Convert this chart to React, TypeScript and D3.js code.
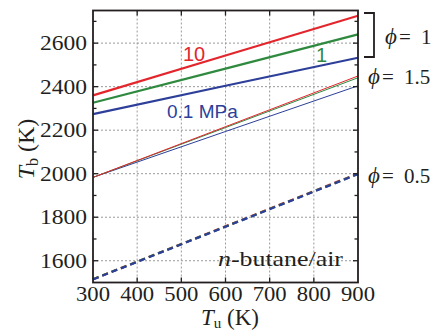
import React from 'react';
import * as d3 from 'd3';

const tu = [300, 600, 900];
const phi1_10 = [2360, 2543, 2726];
const phi1_1 = [2326, 2483, 2640];
const phi1_01 = [2274, 2404, 2533];
const phi15_10 = [1983, 2216, 2449];
const phi15_1 = [1983, 2212, 2441];
const phi15_01 = [1983, 2194, 2404];
const phi05_10 = [1515, 1758, 2001];
const phi05_1 = [1515, 1757, 1999];
const phi05_01 = [1514, 1756, 1998];

const xTicks = [300, 400, 500, 600, 700, 800, 900];
const yTicks = [1600, 1800, 2000, 2200, 2400, 2600];
const yMinor = [1700, 1900, 2100, 2300, 2500, 2700];

const RED = '#e2262c';
const GREEN = '#2f8a3f';
const BLUE = '#2d3f98';
const INK = '#231f20';
const SERIF = '"Liberation Serif", "Times New Roman", serif';
const SANS = '"Liberation Sans", Arial, sans-serif';

export default function App() {
  const x = d3.scaleLinear().domain([300, 900]).range([93, 358]);
  const y = d3.scaleLinear().domain([1500, 2750]).range([282.5, 10.5]);
  const line = (vals: number[]) =>
    d3.line<number>().x((_, i) => x(tu[i])).y((v) => y(v))(vals) || '';

  const thick = [
    { v: phi1_01, c: BLUE },
    { v: phi1_1, c: GREEN },
    { v: phi1_10, c: RED },
  ];
  const thin = [
    { v: phi15_01, c: BLUE },
    { v: phi15_1, c: GREEN },
    { v: phi15_10, c: RED },
  ];
  const dashed = [
    { v: phi05_10, c: RED },
    { v: phi05_1, c: GREEN },
    { v: phi05_01, c: BLUE },
  ];
  const [x0, x1] = x.range();
  const [yb, yt] = y.range();

  return (
    <svg width={433} height={332} style={{ position: 'absolute', left: 0, top: 0 }}>
      <rect width={433} height={332} fill="#fff" />
      {/* grid */}
      {xTicks.slice(1, -1).map((t) => (
        <line key={'gx' + t} x1={x(t)} x2={x(t)} y1={yt} y2={yb} stroke="#9a9a9a" strokeWidth={1} strokeDasharray="2,2" />
      ))}
      {yTicks.map((t) => (
        <line key={'gy' + t} x1={x0} x2={x1} y1={y(t)} y2={y(t)} stroke="#9a9a9a" strokeWidth={1} strokeDasharray="2,2" />
      ))}
      {/* data */}
      {dashed.map((s, i) => (
        <path key={'d' + i} d={line(s.v)} fill="none" stroke={s.c} strokeWidth={2.2} strokeDasharray="6,4" />
      ))}
      {thin.map((s, i) => (
        <path key={'t' + i} d={line(s.v)} fill="none" stroke={s.c} strokeWidth={1} />
      ))}
      {thick.map((s, i) => (
        <path key={'k' + i} d={line(s.v)} fill="none" stroke={s.c} strokeWidth={2.2} />
      ))}
      {/* ticks */}
      {xTicks.slice(1, -1).map((t) => (
        <g key={'tx' + t}>
          <line x1={x(t)} x2={x(t)} y1={yb} y2={yb - 5} stroke={INK} strokeWidth={1.3} />
          <line x1={x(t)} x2={x(t)} y1={yt} y2={yt + 5} stroke={INK} strokeWidth={1.3} />
        </g>
      ))}
      {yTicks.map((t) => (
        <g key={'ty' + t}>
          <line x1={x0} x2={x0 + 5} y1={y(t)} y2={y(t)} stroke={INK} strokeWidth={1.3} />
          <line x1={x1} x2={x1 - 5} y1={y(t)} y2={y(t)} stroke={INK} strokeWidth={1.3} />
        </g>
      ))}
      {yMinor.map((t) => (
        <g key={'tm' + t}>
          <line x1={x0} x2={x0 + 3.5} y1={y(t)} y2={y(t)} stroke={INK} strokeWidth={1.3} />
          <line x1={x1} x2={x1 - 3.5} y1={y(t)} y2={y(t)} stroke={INK} strokeWidth={1.3} />
        </g>
      ))}
      <rect x={x0} y={yt} width={x1 - x0} height={yb - yt} fill="none" stroke={INK} strokeWidth={1.8} />
      {/* tick labels */}
      {yTicks.map((t) => (
        <text key={'ly' + t} x={87} y={y(t) + 7} textAnchor="end" fontFamily={SERIF} fontSize={21}
          fill={INK} textLength={47} lengthAdjust="spacingAndGlyphs">{t}</text>
      ))}
      {xTicks.map((t) => (
        <text key={'lx' + t} x={x(t)} y={301} textAnchor="middle" fontFamily={SERIF} fontSize={21}
          fill={INK} textLength={34} lengthAdjust="spacingAndGlyphs">{t}</text>
      ))}
      {/* axis titles */}
      <text transform="translate(34,149) rotate(-90)" textAnchor="middle" fontFamily={SERIF} fontSize={24} fill={INK}>
        <tspan fontStyle="italic">T</tspan>
        <tspan fontSize={16} dy={4}>b</tspan>
        <tspan dy={-4}> (K)</tspan>
      </text>
      <text x={230} y={325} textAnchor="middle" fontFamily={SERIF} fontSize={23} fill={INK}>
        <tspan fontStyle="italic">T</tspan>
        <tspan fontSize={15} dy={3}>u</tspan>
        <tspan dy={-3}> (K)</tspan>
      </text>
      {/* series labels */}
      <text x={183} y={60.5} fontFamily={SANS} fontSize={20} fill={RED}>10</text>
      <text x={316} y={61.5} fontFamily={SANS} fontSize={20} fill={GREEN}>1</text>
      <text x={167} y={118} fontFamily={SANS} fontSize={19} fill={BLUE}>0.1 MPa</text>
      <text x={218} y={266} fontFamily={SERIF} fontSize={21} fill={INK} textLength={125} lengthAdjust="spacingAndGlyphs">
        <tspan fontStyle="italic">n</tspan>-butane/air
      </text>
      {/* right annotations */}
      <path d="M364,13 H374 V57 H364" fill="none" stroke={INK} strokeWidth={1.8} />
      {[
        { yb: 44, num: '1', xs: 385 },
        { yb: 83.5, num: '1.5', xs: 368 },
        { yb: 183, num: '0.5', xs: 368 },
      ].map((a, i) => (
        <g key={'an' + i} fontFamily={SERIF} fill={INK} fontSize={21}>
          <text x={a.xs} y={a.yb} fontStyle="italic" fontSize={23}>ϕ</text>
          <text x={a.xs + 14} y={a.yb}>=</text>
          <text x={a.xs + 36} y={a.yb}>{a.num}</text>
        </g>
      ))}
    </svg>
  );
}
